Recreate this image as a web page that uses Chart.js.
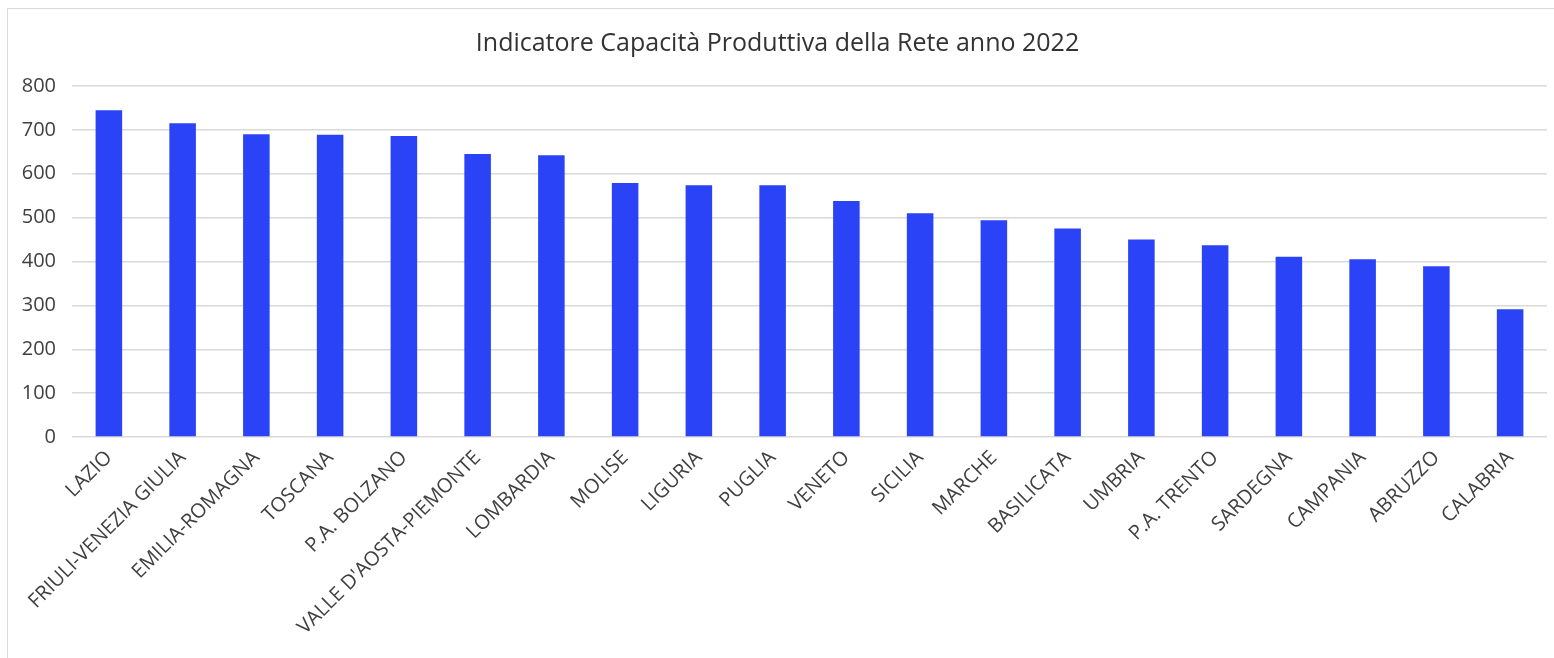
<!DOCTYPE html>
<html lang="it">
<head>
<meta charset="utf-8">
<title>Indicatore Capacità Produttiva della Rete anno 2022</title>
<script src="https://cdn.jsdelivr.net/npm/chart.js@4/dist/chart.umd.min.js"></script>
<style>
    html, body { margin: 0; padding: 0; background: #fff; }
    #cornice {
        position: absolute;
        left: 7px;
        top: 8px;
        width: 1547px;
        height: 650px;
        border-left: 1px solid #d9d9d9;
        border-top: 1px solid #d9d9d9;
    }
</style>
</head>
<body>
<div id="cornice"><canvas id="graficoRete"></canvas></div>
<script>
    // Regioni in ordine decrescente di indicatore
    const regioni = [
        "LAZIO", "FRIULI-VENEZIA GIULIA", "EMILIA-ROMAGNA", "TOSCANA", "P.A. BOLZANO",
        "VALLE D'AOSTA-PIEMONTE", "LOMBARDIA", "MOLISE", "LIGURIA", "PUGLIA",
        "VENETO", "SICILIA", "MARCHE", "BASILICATA", "UMBRIA",
        "P.A. TRENTO", "SARDEGNA", "CAMPANIA", "ABRUZZO", "CALABRIA"
    ];
    const valoriIndicatore = [
        745, 715, 690, 689, 686,
        645, 642, 579, 574, 574,
        538, 510, 494, 475, 450,
        437, 411, 405, 389, 291
    ];
    const tickAsseY = [0, 100, 200, 300, 400, 500, 600, 700, 800];

    const titolo = "Indicatore Capacità Produttiva della Rete anno 2022";
    const font = "'Open Sans', 'DejaVu Sans', sans-serif";

    const ctx = document.getElementById("graficoRete").getContext("2d");
    ctx.canvas.width = 1547;
    ctx.canvas.height = 650;

    new Chart(ctx, {
        type: "bar",
        data: {
            labels: regioni,
            datasets: [{
                label: "Indicatore",
                data: valoriIndicatore,
                backgroundColor: "#2b43f7",
                borderWidth: 0,
                barPercentage: 0.36,
                categoryPercentage: 1.0
            }]
        },
        options: {
            responsive: false,
            animation: false,
            layout: { padding: { left: 0, right: 8, top: 0, bottom: 0 } },
            plugins: {
                legend: { display: false },
                tooltip: { enabled: false },
                title: {
                    display: true,
                    text: titolo,
                    color: "#333333",
                    font: { family: font, size: 25, weight: "normal" },
                    padding: { top: 20, bottom: 27 }
                }
            },
            scales: {
                x: {
                    grid: { display: false, drawTicks: false },
                    border: { display: false },
                    ticks: {
                        autoSkip: false,
                        minRotation: 45,
                        maxRotation: 45,
                        padding: 9,
                        color: "#404040",
                        font: { family: font, size: 20 }
                    },
                    afterFit: function (scale) {
                        scale.height = 222;
                    }
                },
                y: {
                    min: 0,
                    max: 800,
                    afterBuildTicks: function (scale) {
                        scale.ticks = tickAsseY.map(v => ({ value: v }));
                    },
                    grid: { color: "#d9d9d9", lineWidth: 1.5, drawTicks: false },
                    border: { display: false },
                    ticks: {
                        padding: 16,
                        color: "#404040",
                        font: { family: font, size: 20 }
                    },
                    afterFit: function (scale) {
                        scale.width = 64;
                    }
                }
            }
        }
    });
</script>
</body>
</html>
